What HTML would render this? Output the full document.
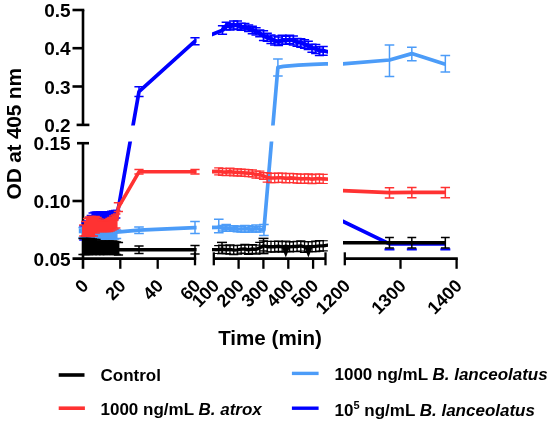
<!DOCTYPE html>
<html><head><meta charset="utf-8"><style>
html,body{margin:0;padding:0;background:#fff;}
svg{display:block;will-change:transform;}
</style></head><body>
<svg width="550" height="425" viewBox="0 0 550 425">
<defs><clipPath id="cl">
<rect x="79" y="0" width="117.6" height="125.5"/><rect x="79" y="141.5" width="117.6" height="121"/>
<rect x="212" y="0" width="116" height="125.5"/><rect x="212" y="141.5" width="116" height="121"/>
<rect x="343" y="0" width="116" height="125.5"/><rect x="343" y="141.5" width="116" height="121"/>
</clipPath><clipPath id="cb">
<rect x="75" y="0" width="126" height="125.5"/><rect x="75" y="141.5" width="126" height="121"/>
<rect x="208" y="0" width="123" height="125.5"/><rect x="208" y="141.5" width="123" height="121"/>
<rect x="340" y="0" width="122" height="125.5"/><rect x="340" y="141.5" width="122" height="121"/>
</clipPath></defs>
<rect width="550" height="425" fill="#fff"/>
<line x1="83" y1="10" x2="83" y2="124.9" stroke="#000" stroke-width="2.6"/>
<line x1="72.5" y1="10" x2="84.3" y2="10" stroke="#000" stroke-width="2.6"/>
<line x1="72.5" y1="48.2" x2="83" y2="48.2" stroke="#000" stroke-width="2.6"/>
<line x1="72.5" y1="86.5" x2="83" y2="86.5" stroke="#000" stroke-width="2.6"/>
<line x1="76.6" y1="124.9" x2="89.4" y2="124.9" stroke="#000" stroke-width="2.6"/>
<line x1="83" y1="143.2" x2="83" y2="268.8" stroke="#000" stroke-width="2.6"/>
<line x1="77" y1="143.2" x2="89" y2="143.2" stroke="#000" stroke-width="2.6"/>
<line x1="72.5" y1="201" x2="83" y2="201" stroke="#000" stroke-width="2.6"/>
<line x1="72.5" y1="258.6" x2="196.2" y2="258.6" stroke="#000" stroke-width="2.8"/>
<line x1="120.3" y1="258.6" x2="120.3" y2="268.8" stroke="#000" stroke-width="2.3"/>
<line x1="157.7" y1="258.6" x2="157.7" y2="268.8" stroke="#000" stroke-width="2.3"/>
<line x1="195" y1="252.3" x2="195" y2="265.3" stroke="#000" stroke-width="2.3"/>
<line x1="213.8" y1="258.6" x2="325.5" y2="258.6" stroke="#000" stroke-width="2.8"/>
<line x1="213.8" y1="252.3" x2="213.8" y2="265.3" stroke="#000" stroke-width="2.3"/>
<line x1="238.6" y1="258.6" x2="238.6" y2="268.8" stroke="#000" stroke-width="2.3"/>
<line x1="263.4" y1="258.6" x2="263.4" y2="268.8" stroke="#000" stroke-width="2.3"/>
<line x1="288.3" y1="258.6" x2="288.3" y2="268.8" stroke="#000" stroke-width="2.3"/>
<line x1="313.1" y1="258.6" x2="313.1" y2="268.8" stroke="#000" stroke-width="2.3"/>
<line x1="325.5" y1="252.3" x2="325.5" y2="265.3" stroke="#000" stroke-width="2.3"/>
<line x1="344.8" y1="258.6" x2="457.8" y2="258.6" stroke="#000" stroke-width="2.8"/>
<line x1="344.8" y1="252.3" x2="344.8" y2="265.3" stroke="#000" stroke-width="2.3"/>
<line x1="400.5" y1="258.6" x2="400.5" y2="268.8" stroke="#000" stroke-width="2.3"/>
<line x1="456.6" y1="258.6" x2="456.6" y2="268.8" stroke="#000" stroke-width="2.3"/>
<g font-family='"Liberation Sans", sans-serif' font-weight="bold" fill="#000">
<text x="70.6" y="17.2" font-size="19" text-anchor="end"  style="">0.5</text>
<text x="70.6" y="55.400000000000006" font-size="19" text-anchor="end"  style="">0.4</text>
<text x="70.6" y="93.7" font-size="19" text-anchor="end"  style="">0.3</text>
<text x="70.6" y="132.1" font-size="19" text-anchor="end"  style="">0.2</text>
<text x="70.6" y="150.39999999999998" font-size="19" text-anchor="end"  style="">0.15</text>
<text x="70.6" y="208.2" font-size="19" text-anchor="end"  style="">0.10</text>
<text x="70.6" y="265.5" font-size="19" text-anchor="end"  style="">0.05</text>
<text x="89.6" y="287" font-size="18" text-anchor="end" transform="rotate(-45 89.6 287)">0</text>
<text x="126.89999999999999" y="287" font-size="18" text-anchor="end" transform="rotate(-45 126.89999999999999 287)">20</text>
<text x="164.29999999999998" y="287" font-size="18" text-anchor="end" transform="rotate(-45 164.29999999999998 287)">40</text>
<text x="201.6" y="287" font-size="18" text-anchor="end" transform="rotate(-45 201.6 287)">60</text>
<text x="220.4" y="287" font-size="18" text-anchor="end" transform="rotate(-45 220.4 287)">100</text>
<text x="245.2" y="287" font-size="18" text-anchor="end" transform="rotate(-45 245.2 287)">200</text>
<text x="270.0" y="287" font-size="18" text-anchor="end" transform="rotate(-45 270.0 287)">300</text>
<text x="294.90000000000003" y="287" font-size="18" text-anchor="end" transform="rotate(-45 294.90000000000003 287)">400</text>
<text x="319.70000000000005" y="287" font-size="18" text-anchor="end" transform="rotate(-45 319.70000000000005 287)">500</text>
<text x="351.40000000000003" y="287" font-size="18" text-anchor="end" transform="rotate(-45 351.40000000000003 287)">1200</text>
<text x="407.1" y="287" font-size="18" text-anchor="end" transform="rotate(-45 407.1 287)">1300</text>
<text x="463.20000000000005" y="287" font-size="18" text-anchor="end" transform="rotate(-45 463.20000000000005 287)">1400</text>
<text x="270" y="345" font-size="20.6" text-anchor="middle"  style="">Time (min)</text>
<text x="0" y="0" font-size="21" letter-spacing="-0.25" text-anchor="middle" transform="translate(20.6,133.8) rotate(-90)">OD at 405 nm</text>
<text x="100.5" y="380.6" font-size="17" text-anchor="start"  style="">Control</text>
<text x="100.5" y="415.1" font-size="17" text-anchor="start"  style="">1000 ng/mL <tspan font-style="italic">B. atrox</tspan></text>
<text x="334.5" y="379.5" font-size="17" text-anchor="start"  style="">1000 ng/mL <tspan font-style="italic">B. lanceolatus</tspan></text>
<text x="334.5" y="415.7" font-size="17" text-anchor="start"  style="">10<tspan font-size="11" dy="-7">5</tspan><tspan dy="7"> ng/mL </tspan><tspan font-style="italic">B. lanceolatus</tspan></text>
</g>
<line x1="58.7" y1="375" x2="84.5" y2="375" stroke="#000" stroke-width="3.6"/>
<line x1="58.7" y1="408.2" x2="84.9" y2="408.2" stroke="rgb(255,50,50)" stroke-width="3.6"/>
<line x1="291.9" y1="373.4" x2="318.6" y2="373.4" stroke="rgb(76,156,248)" stroke-width="3.4"/>
<line x1="291.9" y1="408.2" x2="318.6" y2="408.2" stroke="rgb(0,0,255)" stroke-width="3.4"/>
<g clip-path="url(#cb)">
<polygon points="82.05,226 83.95,226 83.92,223 85.82,223 85.78,221 87.68,221 87.65,218 89.55,218 89.52,215.5 91.42,215.5 91.38,213 93.28,213 93.25,212.2 95.15,212.2 95.12,212 97.02,212 96.98,212.3 98.88,212.3 98.85,212 100.75,212 100.72,212.3 102.62,212.3 102.58,212 104.48,212 104.45,212.3 106.35,212.3 106.32,212 108.22,212 108.18,211.8 110.08,211.8 110.05,211.3 111.95,211.3 111.92,211 113.82,211 113.78,210.5 115.68,210.5 115.65,210.5 117.55,210.5 117.55,218 115.65,218 115.68,219.5 113.78,219.5 113.82,220 111.92,220 111.95,222 110.05,222 110.08,223.5 108.18,223.5 108.22,224 106.32,224 106.35,224.5 104.45,224.5 104.48,224.5 102.58,224.5 102.62,225 100.72,225 100.75,225 98.85,225 98.88,225 96.98,225 97.02,225 95.12,225 95.15,225 93.25,225 93.28,226 91.38,226 91.42,228 89.52,228 89.55,230 87.65,230 87.68,232 85.78,232 85.82,236 83.92,236 83.95,240 82.05,240" fill="rgb(0,0,255)"/>
<line x1="79.2" y1="226" x2="86.8" y2="226" stroke="rgb(0,0,255)" stroke-width="1.4"/>
<line x1="79.2" y1="240" x2="86.8" y2="240" stroke="rgb(0,0,255)" stroke-width="1.4"/>
<line x1="81.07" y1="223" x2="88.67" y2="223" stroke="rgb(0,0,255)" stroke-width="1.4"/>
<line x1="81.07" y1="236" x2="88.67" y2="236" stroke="rgb(0,0,255)" stroke-width="1.4"/>
<line x1="82.93" y1="221" x2="90.53" y2="221" stroke="rgb(0,0,255)" stroke-width="1.4"/>
<line x1="82.93" y1="232" x2="90.53" y2="232" stroke="rgb(0,0,255)" stroke-width="1.4"/>
<line x1="84.8" y1="218" x2="92.4" y2="218" stroke="rgb(0,0,255)" stroke-width="1.4"/>
<line x1="84.8" y1="230" x2="92.4" y2="230" stroke="rgb(0,0,255)" stroke-width="1.4"/>
<line x1="86.67" y1="215.5" x2="94.27" y2="215.5" stroke="rgb(0,0,255)" stroke-width="1.4"/>
<line x1="86.67" y1="228" x2="94.27" y2="228" stroke="rgb(0,0,255)" stroke-width="1.4"/>
<line x1="88.53" y1="213" x2="96.13" y2="213" stroke="rgb(0,0,255)" stroke-width="1.4"/>
<line x1="88.53" y1="226" x2="96.13" y2="226" stroke="rgb(0,0,255)" stroke-width="1.4"/>
<line x1="90.4" y1="212.2" x2="98" y2="212.2" stroke="rgb(0,0,255)" stroke-width="1.4"/>
<line x1="90.4" y1="225" x2="98" y2="225" stroke="rgb(0,0,255)" stroke-width="1.4"/>
<line x1="92.27" y1="212" x2="99.87" y2="212" stroke="rgb(0,0,255)" stroke-width="1.4"/>
<line x1="92.27" y1="225" x2="99.87" y2="225" stroke="rgb(0,0,255)" stroke-width="1.4"/>
<line x1="94.13" y1="212.3" x2="101.73" y2="212.3" stroke="rgb(0,0,255)" stroke-width="1.4"/>
<line x1="94.13" y1="225" x2="101.73" y2="225" stroke="rgb(0,0,255)" stroke-width="1.4"/>
<line x1="96" y1="212" x2="103.6" y2="212" stroke="rgb(0,0,255)" stroke-width="1.4"/>
<line x1="96" y1="225" x2="103.6" y2="225" stroke="rgb(0,0,255)" stroke-width="1.4"/>
<line x1="97.87" y1="212.3" x2="105.47" y2="212.3" stroke="rgb(0,0,255)" stroke-width="1.4"/>
<line x1="97.87" y1="225" x2="105.47" y2="225" stroke="rgb(0,0,255)" stroke-width="1.4"/>
<line x1="99.73" y1="212" x2="107.33" y2="212" stroke="rgb(0,0,255)" stroke-width="1.4"/>
<line x1="99.73" y1="224.5" x2="107.33" y2="224.5" stroke="rgb(0,0,255)" stroke-width="1.4"/>
<line x1="101.6" y1="212.3" x2="109.2" y2="212.3" stroke="rgb(0,0,255)" stroke-width="1.4"/>
<line x1="101.6" y1="224.5" x2="109.2" y2="224.5" stroke="rgb(0,0,255)" stroke-width="1.4"/>
<line x1="103.47" y1="212" x2="111.07" y2="212" stroke="rgb(0,0,255)" stroke-width="1.4"/>
<line x1="103.47" y1="224" x2="111.07" y2="224" stroke="rgb(0,0,255)" stroke-width="1.4"/>
<line x1="105.33" y1="211.8" x2="112.93" y2="211.8" stroke="rgb(0,0,255)" stroke-width="1.4"/>
<line x1="105.33" y1="223.5" x2="112.93" y2="223.5" stroke="rgb(0,0,255)" stroke-width="1.4"/>
<line x1="107.2" y1="211.3" x2="114.8" y2="211.3" stroke="rgb(0,0,255)" stroke-width="1.4"/>
<line x1="107.2" y1="222" x2="114.8" y2="222" stroke="rgb(0,0,255)" stroke-width="1.4"/>
<line x1="109.07" y1="211" x2="116.67" y2="211" stroke="rgb(0,0,255)" stroke-width="1.4"/>
<line x1="109.07" y1="220" x2="116.67" y2="220" stroke="rgb(0,0,255)" stroke-width="1.4"/>
<line x1="110.93" y1="210.5" x2="118.53" y2="210.5" stroke="rgb(0,0,255)" stroke-width="1.4"/>
<line x1="110.93" y1="219.5" x2="118.53" y2="219.5" stroke="rgb(0,0,255)" stroke-width="1.4"/>
<line x1="112.8" y1="210.5" x2="120.4" y2="210.5" stroke="rgb(0,0,255)" stroke-width="1.4"/>
<line x1="112.8" y1="218" x2="120.4" y2="218" stroke="rgb(0,0,255)" stroke-width="1.4"/>
</g>
<g clip-path="url(#cl)">
<polyline points="116.6,213.5 118.5,207.5 139,91.6 195,41.2 222.5,30.2 226.23,25.91 229.96,26.52 233.69,25.09 237.42,25.24 241.15,27 244.88,27.03 248.6,28.36 252.33,29.84 256.06,31.48 259.79,33.45 263.52,35.71 267.25,37.25 270.98,38.77 274.71,40.84 278.44,41.73 282.17,40.09 285.89,40.4 289.62,39.79 293.35,40.03 297.08,42.29 300.81,42.47 304.54,44.08 308.27,45.72 312,47.98 315.73,48.58 319.46,50.71 323.18,50.63 331,52.6 336,218 389.48,243.8 445.33,243.8" fill="none" stroke="rgb(0,0,255)" stroke-width="3.7" stroke-linejoin="round" />
</g>
<g clip-path="url(#cb)">
<line x1="139" y1="86.8" x2="139" y2="96.4" stroke="rgb(0,0,255)" stroke-width="1.5"/>
<line x1="134.4" y1="86.8" x2="143.6" y2="86.8" stroke="rgb(0,0,255)" stroke-width="1.5"/>
<line x1="134.4" y1="96.4" x2="143.6" y2="96.4" stroke="rgb(0,0,255)" stroke-width="1.5"/>
<line x1="195" y1="37.7" x2="195" y2="44.7" stroke="rgb(0,0,255)" stroke-width="1.5"/>
<line x1="190.4" y1="37.7" x2="199.6" y2="37.7" stroke="rgb(0,0,255)" stroke-width="1.5"/>
<line x1="190.4" y1="44.7" x2="199.6" y2="44.7" stroke="rgb(0,0,255)" stroke-width="1.5"/>
</g>
<g clip-path="url(#cb)">
<line x1="222.5" y1="25.7" x2="222.5" y2="34.2" stroke="rgb(0,0,255)" stroke-width="1.7"/>
<line x1="217.9" y1="25.7" x2="227.1" y2="25.7" stroke="rgb(0,0,255)" stroke-width="1.5"/>
<line x1="217.9" y1="34.2" x2="227.1" y2="34.2" stroke="rgb(0,0,255)" stroke-width="1.5"/>
<line x1="226.23" y1="22.3" x2="226.23" y2="29.67" stroke="rgb(0,0,255)" stroke-width="1.7"/>
<line x1="221.63" y1="22.3" x2="230.83" y2="22.3" stroke="rgb(0,0,255)" stroke-width="1.5"/>
<line x1="221.63" y1="29.67" x2="230.83" y2="29.67" stroke="rgb(0,0,255)" stroke-width="1.5"/>
<line x1="229.96" y1="23.41" x2="229.96" y2="29.89" stroke="rgb(0,0,255)" stroke-width="1.7"/>
<line x1="225.36" y1="23.41" x2="234.56" y2="23.41" stroke="rgb(0,0,255)" stroke-width="1.5"/>
<line x1="225.36" y1="29.89" x2="234.56" y2="29.89" stroke="rgb(0,0,255)" stroke-width="1.5"/>
<line x1="233.69" y1="21.12" x2="233.69" y2="28.92" stroke="rgb(0,0,255)" stroke-width="1.7"/>
<line x1="229.09" y1="21.12" x2="238.29" y2="21.12" stroke="rgb(0,0,255)" stroke-width="1.5"/>
<line x1="229.09" y1="28.92" x2="238.29" y2="28.92" stroke="rgb(0,0,255)" stroke-width="1.5"/>
<line x1="237.42" y1="21.06" x2="237.42" y2="29.4" stroke="rgb(0,0,255)" stroke-width="1.7"/>
<line x1="232.82" y1="21.06" x2="242.02" y2="21.06" stroke="rgb(0,0,255)" stroke-width="1.5"/>
<line x1="232.82" y1="29.4" x2="242.02" y2="29.4" stroke="rgb(0,0,255)" stroke-width="1.5"/>
<line x1="241.15" y1="23.26" x2="241.15" y2="30.19" stroke="rgb(0,0,255)" stroke-width="1.7"/>
<line x1="236.55" y1="23.26" x2="245.75" y2="23.26" stroke="rgb(0,0,255)" stroke-width="1.5"/>
<line x1="236.55" y1="30.19" x2="245.75" y2="30.19" stroke="rgb(0,0,255)" stroke-width="1.5"/>
<line x1="244.88" y1="23.39" x2="244.88" y2="30.1" stroke="rgb(0,0,255)" stroke-width="1.7"/>
<line x1="240.28" y1="23.39" x2="249.47" y2="23.39" stroke="rgb(0,0,255)" stroke-width="1.5"/>
<line x1="240.28" y1="30.1" x2="249.47" y2="30.1" stroke="rgb(0,0,255)" stroke-width="1.5"/>
<line x1="248.6" y1="25.07" x2="248.6" y2="31.39" stroke="rgb(0,0,255)" stroke-width="1.7"/>
<line x1="244" y1="25.07" x2="253.2" y2="25.07" stroke="rgb(0,0,255)" stroke-width="1.5"/>
<line x1="244" y1="31.39" x2="253.2" y2="31.39" stroke="rgb(0,0,255)" stroke-width="1.5"/>
<line x1="252.33" y1="26.31" x2="252.33" y2="33.85" stroke="rgb(0,0,255)" stroke-width="1.7"/>
<line x1="247.73" y1="26.31" x2="256.93" y2="26.31" stroke="rgb(0,0,255)" stroke-width="1.5"/>
<line x1="247.73" y1="33.85" x2="256.93" y2="33.85" stroke="rgb(0,0,255)" stroke-width="1.5"/>
<line x1="256.06" y1="27.71" x2="256.06" y2="35.08" stroke="rgb(0,0,255)" stroke-width="1.7"/>
<line x1="251.46" y1="27.71" x2="260.66" y2="27.71" stroke="rgb(0,0,255)" stroke-width="1.5"/>
<line x1="251.46" y1="35.08" x2="260.66" y2="35.08" stroke="rgb(0,0,255)" stroke-width="1.5"/>
<line x1="259.79" y1="29.91" x2="259.79" y2="36.79" stroke="rgb(0,0,255)" stroke-width="1.7"/>
<line x1="255.19" y1="29.91" x2="264.39" y2="29.91" stroke="rgb(0,0,255)" stroke-width="1.5"/>
<line x1="255.19" y1="36.79" x2="264.39" y2="36.79" stroke="rgb(0,0,255)" stroke-width="1.5"/>
<line x1="263.52" y1="30.81" x2="263.52" y2="40.42" stroke="rgb(0,0,255)" stroke-width="1.7"/>
<line x1="258.92" y1="30.81" x2="268.12" y2="30.81" stroke="rgb(0,0,255)" stroke-width="1.5"/>
<line x1="258.92" y1="40.42" x2="268.12" y2="40.42" stroke="rgb(0,0,255)" stroke-width="1.5"/>
<line x1="267.25" y1="33.17" x2="267.25" y2="41.22" stroke="rgb(0,0,255)" stroke-width="1.7"/>
<line x1="262.65" y1="33.17" x2="271.85" y2="33.17" stroke="rgb(0,0,255)" stroke-width="1.5"/>
<line x1="262.65" y1="41.22" x2="271.85" y2="41.22" stroke="rgb(0,0,255)" stroke-width="1.5"/>
<line x1="270.98" y1="34.99" x2="270.98" y2="43.39" stroke="rgb(0,0,255)" stroke-width="1.7"/>
<line x1="266.38" y1="34.99" x2="275.58" y2="34.99" stroke="rgb(0,0,255)" stroke-width="1.5"/>
<line x1="266.38" y1="43.39" x2="275.58" y2="43.39" stroke="rgb(0,0,255)" stroke-width="1.5"/>
<line x1="274.71" y1="36.12" x2="274.71" y2="45" stroke="rgb(0,0,255)" stroke-width="1.7"/>
<line x1="270.11" y1="36.12" x2="279.31" y2="36.12" stroke="rgb(0,0,255)" stroke-width="1.5"/>
<line x1="270.11" y1="45" x2="279.31" y2="45" stroke="rgb(0,0,255)" stroke-width="1.5"/>
<line x1="278.44" y1="37.02" x2="278.44" y2="45.43" stroke="rgb(0,0,255)" stroke-width="1.7"/>
<line x1="273.84" y1="37.02" x2="283.04" y2="37.02" stroke="rgb(0,0,255)" stroke-width="1.5"/>
<line x1="273.84" y1="45.43" x2="283.04" y2="45.43" stroke="rgb(0,0,255)" stroke-width="1.5"/>
<line x1="282.17" y1="35.3" x2="282.17" y2="44.36" stroke="rgb(0,0,255)" stroke-width="1.7"/>
<line x1="277.56" y1="35.3" x2="286.77" y2="35.3" stroke="rgb(0,0,255)" stroke-width="1.5"/>
<line x1="277.56" y1="44.36" x2="286.77" y2="44.36" stroke="rgb(0,0,255)" stroke-width="1.5"/>
<line x1="285.89" y1="36.22" x2="285.89" y2="44.18" stroke="rgb(0,0,255)" stroke-width="1.7"/>
<line x1="281.29" y1="36.22" x2="290.49" y2="36.22" stroke="rgb(0,0,255)" stroke-width="1.5"/>
<line x1="281.29" y1="44.18" x2="290.49" y2="44.18" stroke="rgb(0,0,255)" stroke-width="1.5"/>
<line x1="289.62" y1="35.15" x2="289.62" y2="43.81" stroke="rgb(0,0,255)" stroke-width="1.7"/>
<line x1="285.02" y1="35.15" x2="294.22" y2="35.15" stroke="rgb(0,0,255)" stroke-width="1.5"/>
<line x1="285.02" y1="43.81" x2="294.22" y2="43.81" stroke="rgb(0,0,255)" stroke-width="1.5"/>
<line x1="293.35" y1="35.93" x2="293.35" y2="44.89" stroke="rgb(0,0,255)" stroke-width="1.7"/>
<line x1="288.75" y1="35.93" x2="297.95" y2="35.93" stroke="rgb(0,0,255)" stroke-width="1.5"/>
<line x1="288.75" y1="44.89" x2="297.95" y2="44.89" stroke="rgb(0,0,255)" stroke-width="1.5"/>
<line x1="297.08" y1="38.45" x2="297.08" y2="46.29" stroke="rgb(0,0,255)" stroke-width="1.7"/>
<line x1="292.48" y1="38.45" x2="301.68" y2="38.45" stroke="rgb(0,0,255)" stroke-width="1.5"/>
<line x1="292.48" y1="46.29" x2="301.68" y2="46.29" stroke="rgb(0,0,255)" stroke-width="1.5"/>
<line x1="300.81" y1="38.7" x2="300.81" y2="47.13" stroke="rgb(0,0,255)" stroke-width="1.7"/>
<line x1="296.21" y1="38.7" x2="305.41" y2="38.7" stroke="rgb(0,0,255)" stroke-width="1.5"/>
<line x1="296.21" y1="47.13" x2="305.41" y2="47.13" stroke="rgb(0,0,255)" stroke-width="1.5"/>
<line x1="304.54" y1="39.71" x2="304.54" y2="48.32" stroke="rgb(0,0,255)" stroke-width="1.7"/>
<line x1="299.94" y1="39.71" x2="309.14" y2="39.71" stroke="rgb(0,0,255)" stroke-width="1.5"/>
<line x1="299.94" y1="48.32" x2="309.14" y2="48.32" stroke="rgb(0,0,255)" stroke-width="1.5"/>
<line x1="308.27" y1="41.14" x2="308.27" y2="49.58" stroke="rgb(0,0,255)" stroke-width="1.7"/>
<line x1="303.67" y1="41.14" x2="312.87" y2="41.14" stroke="rgb(0,0,255)" stroke-width="1.5"/>
<line x1="303.67" y1="49.58" x2="312.87" y2="49.58" stroke="rgb(0,0,255)" stroke-width="1.5"/>
<line x1="312" y1="44.14" x2="312" y2="52.18" stroke="rgb(0,0,255)" stroke-width="1.7"/>
<line x1="307.4" y1="44.14" x2="316.6" y2="44.14" stroke="rgb(0,0,255)" stroke-width="1.5"/>
<line x1="307.4" y1="52.18" x2="316.6" y2="52.18" stroke="rgb(0,0,255)" stroke-width="1.5"/>
<line x1="315.73" y1="44.56" x2="315.73" y2="53.44" stroke="rgb(0,0,255)" stroke-width="1.7"/>
<line x1="311.13" y1="44.56" x2="320.33" y2="44.56" stroke="rgb(0,0,255)" stroke-width="1.5"/>
<line x1="311.13" y1="53.44" x2="320.33" y2="53.44" stroke="rgb(0,0,255)" stroke-width="1.5"/>
<line x1="319.46" y1="46.64" x2="319.46" y2="55.47" stroke="rgb(0,0,255)" stroke-width="1.7"/>
<line x1="314.86" y1="46.64" x2="324.06" y2="46.64" stroke="rgb(0,0,255)" stroke-width="1.5"/>
<line x1="314.86" y1="55.47" x2="324.06" y2="55.47" stroke="rgb(0,0,255)" stroke-width="1.5"/>
<line x1="323.18" y1="46.46" x2="323.18" y2="55.36" stroke="rgb(0,0,255)" stroke-width="1.7"/>
<line x1="318.58" y1="46.46" x2="327.78" y2="46.46" stroke="rgb(0,0,255)" stroke-width="1.5"/>
<line x1="318.58" y1="55.36" x2="327.78" y2="55.36" stroke="rgb(0,0,255)" stroke-width="1.5"/>
</g>
<g clip-path="url(#cl)">
<polyline points="222.5,30.2 226.23,25.91 229.96,26.52 233.69,25.09 237.42,25.24 241.15,27 244.88,27.03 248.6,28.36 252.33,29.84 256.06,31.48 259.79,33.45 263.52,35.71 267.25,37.25 270.98,38.77 274.71,40.84 278.44,41.73 282.17,40.09 285.89,40.4 289.62,39.79 293.35,40.03 297.08,42.29 300.81,42.47 304.54,44.08 308.27,45.72 312,47.98 315.73,48.58 319.46,50.71 323.18,50.63" fill="none" stroke="rgb(0,0,255)" stroke-width="4.2" stroke-linejoin="round" />
</g>
<line x1="384.48" y1="249.4" x2="394.48" y2="249.4" stroke="rgb(0,0,255)" stroke-width="2.2"/>
<line x1="406.82" y1="249.4" x2="416.82" y2="249.4" stroke="rgb(0,0,255)" stroke-width="2.2"/>
<line x1="440.33" y1="249.4" x2="450.33" y2="249.4" stroke="rgb(0,0,255)" stroke-width="2.2"/>
<g clip-path="url(#cb)">
<polygon points="82.05,227.5 83.95,227.5 83.92,229.5 85.82,229.5 85.78,230 87.68,230 87.65,230 89.55,230 89.52,230 91.42,230 91.38,229.5 93.28,229.5 93.25,229.5 95.15,229.5 95.12,229.5 97.02,229.5 96.98,229.5 98.88,229.5 98.85,229.5 100.75,229.5 100.72,229.5 102.62,229.5 102.58,229.5 104.48,229.5 104.45,229.5 106.35,229.5 106.32,229.5 108.22,229.5 108.18,229.5 110.08,229.5 110.05,229.5 111.95,229.5 111.92,229.5 113.82,229.5 113.78,229.5 115.68,229.5 115.65,230 117.55,230 117.55,238.5 115.65,238.5 115.68,239 113.78,239 113.82,239 111.92,239 111.95,239 110.05,239 110.08,239 108.18,239 108.22,239 106.32,239 106.35,239 104.45,239 104.48,239 102.58,239 102.62,239 100.72,239 100.75,239 98.85,239 98.88,239 96.98,239 97.02,239 95.12,239 95.15,238.5 93.25,238.5 93.28,238.5 91.38,238.5 91.42,238 89.52,238 89.55,238 87.65,238 87.68,237.5 85.78,237.5 85.82,237.5 83.92,237.5 83.95,237.5 82.05,237.5" fill="rgb(76,156,248)"/>
<line x1="78.4" y1="227.5" x2="87.6" y2="227.5" stroke="rgb(76,156,248)" stroke-width="1.4"/>
<line x1="78.4" y1="237.5" x2="87.6" y2="237.5" stroke="rgb(76,156,248)" stroke-width="1.4"/>
<line x1="80.27" y1="229.5" x2="89.47" y2="229.5" stroke="rgb(76,156,248)" stroke-width="1.4"/>
<line x1="80.27" y1="237.5" x2="89.47" y2="237.5" stroke="rgb(76,156,248)" stroke-width="1.4"/>
<line x1="82.13" y1="230" x2="91.33" y2="230" stroke="rgb(76,156,248)" stroke-width="1.4"/>
<line x1="82.13" y1="237.5" x2="91.33" y2="237.5" stroke="rgb(76,156,248)" stroke-width="1.4"/>
<line x1="84" y1="230" x2="93.2" y2="230" stroke="rgb(76,156,248)" stroke-width="1.4"/>
<line x1="84" y1="238" x2="93.2" y2="238" stroke="rgb(76,156,248)" stroke-width="1.4"/>
<line x1="85.87" y1="230" x2="95.07" y2="230" stroke="rgb(76,156,248)" stroke-width="1.4"/>
<line x1="85.87" y1="238" x2="95.07" y2="238" stroke="rgb(76,156,248)" stroke-width="1.4"/>
<line x1="87.73" y1="229.5" x2="96.93" y2="229.5" stroke="rgb(76,156,248)" stroke-width="1.4"/>
<line x1="87.73" y1="238.5" x2="96.93" y2="238.5" stroke="rgb(76,156,248)" stroke-width="1.4"/>
<line x1="89.6" y1="229.5" x2="98.8" y2="229.5" stroke="rgb(76,156,248)" stroke-width="1.4"/>
<line x1="89.6" y1="238.5" x2="98.8" y2="238.5" stroke="rgb(76,156,248)" stroke-width="1.4"/>
<line x1="91.47" y1="229.5" x2="100.67" y2="229.5" stroke="rgb(76,156,248)" stroke-width="1.4"/>
<line x1="91.47" y1="239" x2="100.67" y2="239" stroke="rgb(76,156,248)" stroke-width="1.4"/>
<line x1="93.33" y1="229.5" x2="102.53" y2="229.5" stroke="rgb(76,156,248)" stroke-width="1.4"/>
<line x1="93.33" y1="239" x2="102.53" y2="239" stroke="rgb(76,156,248)" stroke-width="1.4"/>
<line x1="95.2" y1="229.5" x2="104.4" y2="229.5" stroke="rgb(76,156,248)" stroke-width="1.4"/>
<line x1="95.2" y1="239" x2="104.4" y2="239" stroke="rgb(76,156,248)" stroke-width="1.4"/>
<line x1="97.07" y1="229.5" x2="106.27" y2="229.5" stroke="rgb(76,156,248)" stroke-width="1.4"/>
<line x1="97.07" y1="239" x2="106.27" y2="239" stroke="rgb(76,156,248)" stroke-width="1.4"/>
<line x1="98.93" y1="229.5" x2="108.13" y2="229.5" stroke="rgb(76,156,248)" stroke-width="1.4"/>
<line x1="98.93" y1="239" x2="108.13" y2="239" stroke="rgb(76,156,248)" stroke-width="1.4"/>
<line x1="100.8" y1="229.5" x2="110" y2="229.5" stroke="rgb(76,156,248)" stroke-width="1.4"/>
<line x1="100.8" y1="239" x2="110" y2="239" stroke="rgb(76,156,248)" stroke-width="1.4"/>
<line x1="102.67" y1="229.5" x2="111.87" y2="229.5" stroke="rgb(76,156,248)" stroke-width="1.4"/>
<line x1="102.67" y1="239" x2="111.87" y2="239" stroke="rgb(76,156,248)" stroke-width="1.4"/>
<line x1="104.53" y1="229.5" x2="113.73" y2="229.5" stroke="rgb(76,156,248)" stroke-width="1.4"/>
<line x1="104.53" y1="239" x2="113.73" y2="239" stroke="rgb(76,156,248)" stroke-width="1.4"/>
<line x1="106.4" y1="229.5" x2="115.6" y2="229.5" stroke="rgb(76,156,248)" stroke-width="1.4"/>
<line x1="106.4" y1="239" x2="115.6" y2="239" stroke="rgb(76,156,248)" stroke-width="1.4"/>
<line x1="108.27" y1="229.5" x2="117.47" y2="229.5" stroke="rgb(76,156,248)" stroke-width="1.4"/>
<line x1="108.27" y1="239" x2="117.47" y2="239" stroke="rgb(76,156,248)" stroke-width="1.4"/>
<line x1="110.13" y1="229.5" x2="119.33" y2="229.5" stroke="rgb(76,156,248)" stroke-width="1.4"/>
<line x1="110.13" y1="239" x2="119.33" y2="239" stroke="rgb(76,156,248)" stroke-width="1.4"/>
<line x1="112" y1="230" x2="121.2" y2="230" stroke="rgb(76,156,248)" stroke-width="1.4"/>
<line x1="112" y1="238.5" x2="121.2" y2="238.5" stroke="rgb(76,156,248)" stroke-width="1.4"/>
</g>
<rect x="78.8" y="228.3" width="5" height="5" fill="rgb(76,156,248)"/>
<g clip-path="url(#cl)">
<polyline points="116.6,232.2 139,230.2 195,227.6 218.77,227.28 222.5,228.17 226.23,227.87 229.96,228.53 233.69,228.39 237.42,229 241.15,229.02 244.88,228.84 248.6,228.88 252.33,229.34 256.06,228.48 259.79,229.28 263.9,229.9 277.9,67.3 283.41,66.4 298.32,65.1 313.24,64.3 325.67,63.9 342.8,63.8 389.48,60 411.82,53.6 445.33,64.3" fill="none" stroke="rgb(76,156,248)" stroke-width="3.7" stroke-linejoin="round" />
</g>
<g clip-path="url(#cb)">
<line x1="139" y1="227" x2="139" y2="233.4" stroke="rgb(76,156,248)" stroke-width="1.5"/>
<line x1="134.2" y1="227" x2="143.8" y2="227" stroke="rgb(76,156,248)" stroke-width="1.5"/>
<line x1="134.2" y1="233.4" x2="143.8" y2="233.4" stroke="rgb(76,156,248)" stroke-width="1.5"/>
<line x1="195" y1="221.6" x2="195" y2="233.4" stroke="rgb(76,156,248)" stroke-width="1.5"/>
<line x1="190.2" y1="221.6" x2="199.8" y2="221.6" stroke="rgb(76,156,248)" stroke-width="1.5"/>
<line x1="190.2" y1="233.4" x2="199.8" y2="233.4" stroke="rgb(76,156,248)" stroke-width="1.5"/>
<line x1="218.77" y1="219.28" x2="218.77" y2="232.78" stroke="rgb(76,156,248)" stroke-width="1.5"/>
<line x1="213.97" y1="219.28" x2="223.57" y2="219.28" stroke="rgb(76,156,248)" stroke-width="1.5"/>
<line x1="213.97" y1="232.78" x2="223.57" y2="232.78" stroke="rgb(76,156,248)" stroke-width="1.5"/>
<line x1="222.5" y1="225.45" x2="222.5" y2="230.88" stroke="rgb(76,156,248)" stroke-width="1.5"/>
<line x1="217.7" y1="225.45" x2="227.3" y2="225.45" stroke="rgb(76,156,248)" stroke-width="1.5"/>
<line x1="217.7" y1="230.88" x2="227.3" y2="230.88" stroke="rgb(76,156,248)" stroke-width="1.5"/>
<line x1="226.23" y1="224.6" x2="226.23" y2="231.14" stroke="rgb(76,156,248)" stroke-width="1.5"/>
<line x1="221.43" y1="224.6" x2="231.03" y2="224.6" stroke="rgb(76,156,248)" stroke-width="1.5"/>
<line x1="221.43" y1="231.14" x2="231.03" y2="231.14" stroke="rgb(76,156,248)" stroke-width="1.5"/>
<line x1="229.96" y1="225.74" x2="229.96" y2="231.33" stroke="rgb(76,156,248)" stroke-width="1.5"/>
<line x1="225.16" y1="225.74" x2="234.76" y2="225.74" stroke="rgb(76,156,248)" stroke-width="1.5"/>
<line x1="225.16" y1="231.33" x2="234.76" y2="231.33" stroke="rgb(76,156,248)" stroke-width="1.5"/>
<line x1="233.69" y1="225.8" x2="233.69" y2="230.98" stroke="rgb(76,156,248)" stroke-width="1.5"/>
<line x1="228.89" y1="225.8" x2="238.49" y2="225.8" stroke="rgb(76,156,248)" stroke-width="1.5"/>
<line x1="228.89" y1="230.98" x2="238.49" y2="230.98" stroke="rgb(76,156,248)" stroke-width="1.5"/>
<line x1="237.42" y1="226.26" x2="237.42" y2="231.74" stroke="rgb(76,156,248)" stroke-width="1.5"/>
<line x1="232.62" y1="226.26" x2="242.22" y2="226.26" stroke="rgb(76,156,248)" stroke-width="1.5"/>
<line x1="232.62" y1="231.74" x2="242.22" y2="231.74" stroke="rgb(76,156,248)" stroke-width="1.5"/>
<line x1="241.15" y1="226.15" x2="241.15" y2="231.89" stroke="rgb(76,156,248)" stroke-width="1.5"/>
<line x1="236.35" y1="226.15" x2="245.95" y2="226.15" stroke="rgb(76,156,248)" stroke-width="1.5"/>
<line x1="236.35" y1="231.89" x2="245.95" y2="231.89" stroke="rgb(76,156,248)" stroke-width="1.5"/>
<line x1="244.88" y1="225.38" x2="244.88" y2="232.3" stroke="rgb(76,156,248)" stroke-width="1.5"/>
<line x1="240.07" y1="225.38" x2="249.68" y2="225.38" stroke="rgb(76,156,248)" stroke-width="1.5"/>
<line x1="240.07" y1="232.3" x2="249.68" y2="232.3" stroke="rgb(76,156,248)" stroke-width="1.5"/>
<line x1="248.6" y1="225.81" x2="248.6" y2="231.96" stroke="rgb(76,156,248)" stroke-width="1.5"/>
<line x1="243.8" y1="225.81" x2="253.4" y2="225.81" stroke="rgb(76,156,248)" stroke-width="1.5"/>
<line x1="243.8" y1="231.96" x2="253.4" y2="231.96" stroke="rgb(76,156,248)" stroke-width="1.5"/>
<line x1="252.33" y1="226.66" x2="252.33" y2="232.02" stroke="rgb(76,156,248)" stroke-width="1.5"/>
<line x1="247.53" y1="226.66" x2="257.13" y2="226.66" stroke="rgb(76,156,248)" stroke-width="1.5"/>
<line x1="247.53" y1="232.02" x2="257.13" y2="232.02" stroke="rgb(76,156,248)" stroke-width="1.5"/>
<line x1="256.06" y1="225.08" x2="256.06" y2="231.89" stroke="rgb(76,156,248)" stroke-width="1.5"/>
<line x1="251.26" y1="225.08" x2="260.86" y2="225.08" stroke="rgb(76,156,248)" stroke-width="1.5"/>
<line x1="251.26" y1="231.89" x2="260.86" y2="231.89" stroke="rgb(76,156,248)" stroke-width="1.5"/>
<line x1="259.79" y1="226.53" x2="259.79" y2="232.03" stroke="rgb(76,156,248)" stroke-width="1.5"/>
<line x1="254.99" y1="226.53" x2="264.59" y2="226.53" stroke="rgb(76,156,248)" stroke-width="1.5"/>
<line x1="254.99" y1="232.03" x2="264.59" y2="232.03" stroke="rgb(76,156,248)" stroke-width="1.5"/>
<line x1="263.9" y1="224.4" x2="263.9" y2="235.4" stroke="rgb(76,156,248)" stroke-width="1.5"/>
<line x1="259.1" y1="224.4" x2="268.7" y2="224.4" stroke="rgb(76,156,248)" stroke-width="1.5"/>
<line x1="259.1" y1="235.4" x2="268.7" y2="235.4" stroke="rgb(76,156,248)" stroke-width="1.5"/>
<line x1="277.9" y1="59" x2="277.9" y2="76" stroke="rgb(76,156,248)" stroke-width="1.5"/>
<line x1="273.1" y1="59" x2="282.7" y2="59" stroke="rgb(76,156,248)" stroke-width="1.5"/>
<line x1="273.1" y1="76" x2="282.7" y2="76" stroke="rgb(76,156,248)" stroke-width="1.5"/>
<line x1="389.48" y1="44.9" x2="389.48" y2="76.6" stroke="rgb(76,156,248)" stroke-width="1.5"/>
<line x1="384.68" y1="44.9" x2="394.28" y2="44.9" stroke="rgb(76,156,248)" stroke-width="1.5"/>
<line x1="384.68" y1="76.6" x2="394.28" y2="76.6" stroke="rgb(76,156,248)" stroke-width="1.5"/>
<line x1="411.82" y1="47.3" x2="411.82" y2="60.7" stroke="rgb(76,156,248)" stroke-width="1.5"/>
<line x1="407.02" y1="47.3" x2="416.62" y2="47.3" stroke="rgb(76,156,248)" stroke-width="1.5"/>
<line x1="407.02" y1="60.7" x2="416.62" y2="60.7" stroke="rgb(76,156,248)" stroke-width="1.5"/>
<line x1="445.33" y1="55.5" x2="445.33" y2="72" stroke="rgb(76,156,248)" stroke-width="1.5"/>
<line x1="440.53" y1="55.5" x2="450.13" y2="55.5" stroke="rgb(76,156,248)" stroke-width="1.5"/>
<line x1="440.53" y1="72" x2="450.13" y2="72" stroke="rgb(76,156,248)" stroke-width="1.5"/>
</g>
<g clip-path="url(#cb)">
<polygon points="82.05,225 83.95,225 83.92,221.5 85.82,221.5 85.78,218.5 87.68,218.5 87.65,217 89.55,217 89.52,216.5 91.42,216.5 91.38,216.5 93.28,216.5 93.25,216.8 95.15,216.8 95.12,216.5 97.02,216.5 96.98,217.5 98.88,217.5 98.85,219 100.75,219 100.72,220.5 102.62,220.5 102.58,221 104.48,221 104.45,220.5 106.35,220.5 106.32,219.5 108.22,219.5 108.18,218.5 110.08,218.5 110.05,217.5 111.95,217.5 111.92,216 113.82,216 113.78,215 115.68,215 115.65,214 117.55,214 117.55,228 115.65,228 115.68,229 113.78,229 113.82,230 111.92,230 111.95,231 110.05,231 110.08,231.5 108.18,231.5 108.22,231.5 106.32,231.5 106.35,231.5 104.45,231.5 104.48,231.5 102.58,231.5 102.62,231.5 100.72,231.5 100.75,231.5 98.85,231.5 98.88,231.5 96.98,231.5 97.02,233 95.12,233 95.15,236 93.25,236 93.28,236 91.38,236 91.42,236.5 89.52,236.5 89.55,236 87.65,236 87.68,236 85.78,236 85.82,236 83.92,236 83.95,236 82.05,236" fill="rgb(255,50,50)"/>
<line x1="79.2" y1="225" x2="86.8" y2="225" stroke="rgb(255,50,50)" stroke-width="1.4"/>
<line x1="79.2" y1="236" x2="86.8" y2="236" stroke="rgb(255,50,50)" stroke-width="1.4"/>
<line x1="81.07" y1="221.5" x2="88.67" y2="221.5" stroke="rgb(255,50,50)" stroke-width="1.4"/>
<line x1="81.07" y1="236" x2="88.67" y2="236" stroke="rgb(255,50,50)" stroke-width="1.4"/>
<line x1="82.93" y1="218.5" x2="90.53" y2="218.5" stroke="rgb(255,50,50)" stroke-width="1.4"/>
<line x1="82.93" y1="236" x2="90.53" y2="236" stroke="rgb(255,50,50)" stroke-width="1.4"/>
<line x1="84.8" y1="217" x2="92.4" y2="217" stroke="rgb(255,50,50)" stroke-width="1.4"/>
<line x1="84.8" y1="236" x2="92.4" y2="236" stroke="rgb(255,50,50)" stroke-width="1.4"/>
<line x1="86.67" y1="216.5" x2="94.27" y2="216.5" stroke="rgb(255,50,50)" stroke-width="1.4"/>
<line x1="86.67" y1="236.5" x2="94.27" y2="236.5" stroke="rgb(255,50,50)" stroke-width="1.4"/>
<line x1="88.53" y1="216.5" x2="96.13" y2="216.5" stroke="rgb(255,50,50)" stroke-width="1.4"/>
<line x1="88.53" y1="236" x2="96.13" y2="236" stroke="rgb(255,50,50)" stroke-width="1.4"/>
<line x1="90.4" y1="216.8" x2="98" y2="216.8" stroke="rgb(255,50,50)" stroke-width="1.4"/>
<line x1="90.4" y1="236" x2="98" y2="236" stroke="rgb(255,50,50)" stroke-width="1.4"/>
<line x1="92.27" y1="216.5" x2="99.87" y2="216.5" stroke="rgb(255,50,50)" stroke-width="1.4"/>
<line x1="92.27" y1="233" x2="99.87" y2="233" stroke="rgb(255,50,50)" stroke-width="1.4"/>
<line x1="94.13" y1="217.5" x2="101.73" y2="217.5" stroke="rgb(255,50,50)" stroke-width="1.4"/>
<line x1="94.13" y1="231.5" x2="101.73" y2="231.5" stroke="rgb(255,50,50)" stroke-width="1.4"/>
<line x1="96" y1="219" x2="103.6" y2="219" stroke="rgb(255,50,50)" stroke-width="1.4"/>
<line x1="96" y1="231.5" x2="103.6" y2="231.5" stroke="rgb(255,50,50)" stroke-width="1.4"/>
<line x1="97.87" y1="220.5" x2="105.47" y2="220.5" stroke="rgb(255,50,50)" stroke-width="1.4"/>
<line x1="97.87" y1="231.5" x2="105.47" y2="231.5" stroke="rgb(255,50,50)" stroke-width="1.4"/>
<line x1="99.73" y1="221" x2="107.33" y2="221" stroke="rgb(255,50,50)" stroke-width="1.4"/>
<line x1="99.73" y1="231.5" x2="107.33" y2="231.5" stroke="rgb(255,50,50)" stroke-width="1.4"/>
<line x1="101.6" y1="220.5" x2="109.2" y2="220.5" stroke="rgb(255,50,50)" stroke-width="1.4"/>
<line x1="101.6" y1="231.5" x2="109.2" y2="231.5" stroke="rgb(255,50,50)" stroke-width="1.4"/>
<line x1="103.47" y1="219.5" x2="111.07" y2="219.5" stroke="rgb(255,50,50)" stroke-width="1.4"/>
<line x1="103.47" y1="231.5" x2="111.07" y2="231.5" stroke="rgb(255,50,50)" stroke-width="1.4"/>
<line x1="105.33" y1="218.5" x2="112.93" y2="218.5" stroke="rgb(255,50,50)" stroke-width="1.4"/>
<line x1="105.33" y1="231.5" x2="112.93" y2="231.5" stroke="rgb(255,50,50)" stroke-width="1.4"/>
<line x1="107.2" y1="217.5" x2="114.8" y2="217.5" stroke="rgb(255,50,50)" stroke-width="1.4"/>
<line x1="107.2" y1="231" x2="114.8" y2="231" stroke="rgb(255,50,50)" stroke-width="1.4"/>
<line x1="109.07" y1="216" x2="116.67" y2="216" stroke="rgb(255,50,50)" stroke-width="1.4"/>
<line x1="109.07" y1="230" x2="116.67" y2="230" stroke="rgb(255,50,50)" stroke-width="1.4"/>
<line x1="110.93" y1="215" x2="118.53" y2="215" stroke="rgb(255,50,50)" stroke-width="1.4"/>
<line x1="110.93" y1="229" x2="118.53" y2="229" stroke="rgb(255,50,50)" stroke-width="1.4"/>
<line x1="112.8" y1="214" x2="120.4" y2="214" stroke="rgb(255,50,50)" stroke-width="1.4"/>
<line x1="112.8" y1="228" x2="120.4" y2="228" stroke="rgb(255,50,50)" stroke-width="1.4"/>
</g>
<g clip-path="url(#cl)">
<polyline points="116.6,221 118.4,207.4 139,171.8 195,171.8 218.77,171.38 222.5,171.9 226.23,172.13 229.96,171.61 233.69,172.29 237.42,172.36 241.15,172.58 244.88,172.88 248.6,173.08 252.33,173.47 256.06,174.66 259.79,174.53 263.52,175.98 267.25,177.51 270.98,178.06 274.71,177.97 278.44,177.82 282.17,177.82 285.89,178.35 289.62,177.92 293.35,178.14 297.08,178.5 300.81,178.83 304.54,178.73 308.27,178.56 312,179.16 315.73,178.68 319.46,178.62 323.18,178.92 330,179.2 337,190.4 342.8,190.6 389.48,192.6 411.82,192.4 445.33,192.4" fill="none" stroke="rgb(255,50,50)" stroke-width="3.6" stroke-linejoin="round" />
</g>
<g clip-path="url(#cb)">
<line x1="118.4" y1="202.8" x2="118.4" y2="211.4" stroke="rgb(255,50,50)" stroke-width="1.5"/>
<line x1="113.8" y1="202.8" x2="123" y2="202.8" stroke="rgb(255,50,50)" stroke-width="1.5"/>
<line x1="113.8" y1="211.4" x2="123" y2="211.4" stroke="rgb(255,50,50)" stroke-width="1.5"/>
<line x1="139" y1="169.5" x2="139" y2="174.1" stroke="rgb(255,50,50)" stroke-width="1.5"/>
<line x1="134.4" y1="169.5" x2="143.6" y2="169.5" stroke="rgb(255,50,50)" stroke-width="1.5"/>
<line x1="134.4" y1="174.1" x2="143.6" y2="174.1" stroke="rgb(255,50,50)" stroke-width="1.5"/>
<line x1="195" y1="169.5" x2="195" y2="174.1" stroke="rgb(255,50,50)" stroke-width="1.5"/>
<line x1="190.4" y1="169.5" x2="199.6" y2="169.5" stroke="rgb(255,50,50)" stroke-width="1.5"/>
<line x1="190.4" y1="174.1" x2="199.6" y2="174.1" stroke="rgb(255,50,50)" stroke-width="1.5"/>
</g>
<g clip-path="url(#cb)">
<line x1="218.77" y1="167.88" x2="218.77" y2="174.88" stroke="rgb(255,50,50)" stroke-width="1.3"/>
<line x1="214.17" y1="167.88" x2="223.37" y2="167.88" stroke="rgb(255,50,50)" stroke-width="1.2"/>
<line x1="214.17" y1="174.88" x2="223.37" y2="174.88" stroke="rgb(255,50,50)" stroke-width="1.2"/>
<line x1="222.5" y1="168.4" x2="222.5" y2="175.4" stroke="rgb(255,50,50)" stroke-width="1.3"/>
<line x1="217.9" y1="168.4" x2="227.1" y2="168.4" stroke="rgb(255,50,50)" stroke-width="1.2"/>
<line x1="217.9" y1="175.4" x2="227.1" y2="175.4" stroke="rgb(255,50,50)" stroke-width="1.2"/>
<line x1="226.23" y1="168.63" x2="226.23" y2="175.63" stroke="rgb(255,50,50)" stroke-width="1.3"/>
<line x1="221.63" y1="168.63" x2="230.83" y2="168.63" stroke="rgb(255,50,50)" stroke-width="1.2"/>
<line x1="221.63" y1="175.63" x2="230.83" y2="175.63" stroke="rgb(255,50,50)" stroke-width="1.2"/>
<line x1="229.96" y1="168.11" x2="229.96" y2="175.11" stroke="rgb(255,50,50)" stroke-width="1.3"/>
<line x1="225.36" y1="168.11" x2="234.56" y2="168.11" stroke="rgb(255,50,50)" stroke-width="1.2"/>
<line x1="225.36" y1="175.11" x2="234.56" y2="175.11" stroke="rgb(255,50,50)" stroke-width="1.2"/>
<line x1="233.69" y1="168.79" x2="233.69" y2="175.79" stroke="rgb(255,50,50)" stroke-width="1.3"/>
<line x1="229.09" y1="168.79" x2="238.29" y2="168.79" stroke="rgb(255,50,50)" stroke-width="1.2"/>
<line x1="229.09" y1="175.79" x2="238.29" y2="175.79" stroke="rgb(255,50,50)" stroke-width="1.2"/>
<line x1="237.42" y1="168.86" x2="237.42" y2="175.86" stroke="rgb(255,50,50)" stroke-width="1.3"/>
<line x1="232.82" y1="168.86" x2="242.02" y2="168.86" stroke="rgb(255,50,50)" stroke-width="1.2"/>
<line x1="232.82" y1="175.86" x2="242.02" y2="175.86" stroke="rgb(255,50,50)" stroke-width="1.2"/>
<line x1="241.15" y1="169.08" x2="241.15" y2="176.08" stroke="rgb(255,50,50)" stroke-width="1.3"/>
<line x1="236.55" y1="169.08" x2="245.75" y2="169.08" stroke="rgb(255,50,50)" stroke-width="1.2"/>
<line x1="236.55" y1="176.08" x2="245.75" y2="176.08" stroke="rgb(255,50,50)" stroke-width="1.2"/>
<line x1="244.88" y1="169.38" x2="244.88" y2="176.38" stroke="rgb(255,50,50)" stroke-width="1.3"/>
<line x1="240.28" y1="169.38" x2="249.47" y2="169.38" stroke="rgb(255,50,50)" stroke-width="1.2"/>
<line x1="240.28" y1="176.38" x2="249.47" y2="176.38" stroke="rgb(255,50,50)" stroke-width="1.2"/>
<line x1="248.6" y1="169.58" x2="248.6" y2="176.58" stroke="rgb(255,50,50)" stroke-width="1.3"/>
<line x1="244" y1="169.58" x2="253.2" y2="169.58" stroke="rgb(255,50,50)" stroke-width="1.2"/>
<line x1="244" y1="176.58" x2="253.2" y2="176.58" stroke="rgb(255,50,50)" stroke-width="1.2"/>
<line x1="252.33" y1="169.97" x2="252.33" y2="176.97" stroke="rgb(255,50,50)" stroke-width="1.3"/>
<line x1="247.73" y1="169.97" x2="256.93" y2="169.97" stroke="rgb(255,50,50)" stroke-width="1.2"/>
<line x1="247.73" y1="176.97" x2="256.93" y2="176.97" stroke="rgb(255,50,50)" stroke-width="1.2"/>
<line x1="256.06" y1="171.16" x2="256.06" y2="178.16" stroke="rgb(255,50,50)" stroke-width="1.3"/>
<line x1="251.46" y1="171.16" x2="260.66" y2="171.16" stroke="rgb(255,50,50)" stroke-width="1.2"/>
<line x1="251.46" y1="178.16" x2="260.66" y2="178.16" stroke="rgb(255,50,50)" stroke-width="1.2"/>
<line x1="259.79" y1="171.03" x2="259.79" y2="178.03" stroke="rgb(255,50,50)" stroke-width="1.3"/>
<line x1="255.19" y1="171.03" x2="264.39" y2="171.03" stroke="rgb(255,50,50)" stroke-width="1.2"/>
<line x1="255.19" y1="178.03" x2="264.39" y2="178.03" stroke="rgb(255,50,50)" stroke-width="1.2"/>
<line x1="263.52" y1="172.48" x2="263.52" y2="179.48" stroke="rgb(255,50,50)" stroke-width="1.3"/>
<line x1="258.92" y1="172.48" x2="268.12" y2="172.48" stroke="rgb(255,50,50)" stroke-width="1.2"/>
<line x1="258.92" y1="179.48" x2="268.12" y2="179.48" stroke="rgb(255,50,50)" stroke-width="1.2"/>
<line x1="267.25" y1="172.91" x2="267.25" y2="182.11" stroke="rgb(255,50,50)" stroke-width="1.3"/>
<line x1="262.65" y1="172.91" x2="271.85" y2="172.91" stroke="rgb(255,50,50)" stroke-width="1.2"/>
<line x1="262.65" y1="182.11" x2="271.85" y2="182.11" stroke="rgb(255,50,50)" stroke-width="1.2"/>
<line x1="270.98" y1="173.46" x2="270.98" y2="182.66" stroke="rgb(255,50,50)" stroke-width="1.3"/>
<line x1="266.38" y1="173.46" x2="275.58" y2="173.46" stroke="rgb(255,50,50)" stroke-width="1.2"/>
<line x1="266.38" y1="182.66" x2="275.58" y2="182.66" stroke="rgb(255,50,50)" stroke-width="1.2"/>
<line x1="274.71" y1="173.37" x2="274.71" y2="182.57" stroke="rgb(255,50,50)" stroke-width="1.3"/>
<line x1="270.11" y1="173.37" x2="279.31" y2="173.37" stroke="rgb(255,50,50)" stroke-width="1.2"/>
<line x1="270.11" y1="182.57" x2="279.31" y2="182.57" stroke="rgb(255,50,50)" stroke-width="1.2"/>
<line x1="278.44" y1="173.22" x2="278.44" y2="182.42" stroke="rgb(255,50,50)" stroke-width="1.3"/>
<line x1="273.84" y1="173.22" x2="283.04" y2="173.22" stroke="rgb(255,50,50)" stroke-width="1.2"/>
<line x1="273.84" y1="182.42" x2="283.04" y2="182.42" stroke="rgb(255,50,50)" stroke-width="1.2"/>
<line x1="282.17" y1="173.22" x2="282.17" y2="182.42" stroke="rgb(255,50,50)" stroke-width="1.3"/>
<line x1="277.56" y1="173.22" x2="286.77" y2="173.22" stroke="rgb(255,50,50)" stroke-width="1.2"/>
<line x1="277.56" y1="182.42" x2="286.77" y2="182.42" stroke="rgb(255,50,50)" stroke-width="1.2"/>
<line x1="285.89" y1="173.75" x2="285.89" y2="182.95" stroke="rgb(255,50,50)" stroke-width="1.3"/>
<line x1="281.29" y1="173.75" x2="290.49" y2="173.75" stroke="rgb(255,50,50)" stroke-width="1.2"/>
<line x1="281.29" y1="182.95" x2="290.49" y2="182.95" stroke="rgb(255,50,50)" stroke-width="1.2"/>
<line x1="289.62" y1="173.32" x2="289.62" y2="182.52" stroke="rgb(255,50,50)" stroke-width="1.3"/>
<line x1="285.02" y1="173.32" x2="294.22" y2="173.32" stroke="rgb(255,50,50)" stroke-width="1.2"/>
<line x1="285.02" y1="182.52" x2="294.22" y2="182.52" stroke="rgb(255,50,50)" stroke-width="1.2"/>
<line x1="293.35" y1="173.54" x2="293.35" y2="182.74" stroke="rgb(255,50,50)" stroke-width="1.3"/>
<line x1="288.75" y1="173.54" x2="297.95" y2="173.54" stroke="rgb(255,50,50)" stroke-width="1.2"/>
<line x1="288.75" y1="182.74" x2="297.95" y2="182.74" stroke="rgb(255,50,50)" stroke-width="1.2"/>
<line x1="297.08" y1="173.9" x2="297.08" y2="183.1" stroke="rgb(255,50,50)" stroke-width="1.3"/>
<line x1="292.48" y1="173.9" x2="301.68" y2="173.9" stroke="rgb(255,50,50)" stroke-width="1.2"/>
<line x1="292.48" y1="183.1" x2="301.68" y2="183.1" stroke="rgb(255,50,50)" stroke-width="1.2"/>
<line x1="300.81" y1="174.23" x2="300.81" y2="183.43" stroke="rgb(255,50,50)" stroke-width="1.3"/>
<line x1="296.21" y1="174.23" x2="305.41" y2="174.23" stroke="rgb(255,50,50)" stroke-width="1.2"/>
<line x1="296.21" y1="183.43" x2="305.41" y2="183.43" stroke="rgb(255,50,50)" stroke-width="1.2"/>
<line x1="304.54" y1="174.13" x2="304.54" y2="183.33" stroke="rgb(255,50,50)" stroke-width="1.3"/>
<line x1="299.94" y1="174.13" x2="309.14" y2="174.13" stroke="rgb(255,50,50)" stroke-width="1.2"/>
<line x1="299.94" y1="183.33" x2="309.14" y2="183.33" stroke="rgb(255,50,50)" stroke-width="1.2"/>
<line x1="308.27" y1="173.96" x2="308.27" y2="183.16" stroke="rgb(255,50,50)" stroke-width="1.3"/>
<line x1="303.67" y1="173.96" x2="312.87" y2="173.96" stroke="rgb(255,50,50)" stroke-width="1.2"/>
<line x1="303.67" y1="183.16" x2="312.87" y2="183.16" stroke="rgb(255,50,50)" stroke-width="1.2"/>
<line x1="312" y1="174.56" x2="312" y2="183.76" stroke="rgb(255,50,50)" stroke-width="1.3"/>
<line x1="307.4" y1="174.56" x2="316.6" y2="174.56" stroke="rgb(255,50,50)" stroke-width="1.2"/>
<line x1="307.4" y1="183.76" x2="316.6" y2="183.76" stroke="rgb(255,50,50)" stroke-width="1.2"/>
<line x1="315.73" y1="174.08" x2="315.73" y2="183.28" stroke="rgb(255,50,50)" stroke-width="1.3"/>
<line x1="311.13" y1="174.08" x2="320.33" y2="174.08" stroke="rgb(255,50,50)" stroke-width="1.2"/>
<line x1="311.13" y1="183.28" x2="320.33" y2="183.28" stroke="rgb(255,50,50)" stroke-width="1.2"/>
<line x1="319.46" y1="174.02" x2="319.46" y2="183.22" stroke="rgb(255,50,50)" stroke-width="1.3"/>
<line x1="314.86" y1="174.02" x2="324.06" y2="174.02" stroke="rgb(255,50,50)" stroke-width="1.2"/>
<line x1="314.86" y1="183.22" x2="324.06" y2="183.22" stroke="rgb(255,50,50)" stroke-width="1.2"/>
<line x1="323.18" y1="174.32" x2="323.18" y2="183.52" stroke="rgb(255,50,50)" stroke-width="1.3"/>
<line x1="318.58" y1="174.32" x2="327.78" y2="174.32" stroke="rgb(255,50,50)" stroke-width="1.2"/>
<line x1="318.58" y1="183.52" x2="327.78" y2="183.52" stroke="rgb(255,50,50)" stroke-width="1.2"/>
</g>
<g clip-path="url(#cb)">
<line x1="389.48" y1="187.7" x2="389.48" y2="198" stroke="rgb(255,50,50)" stroke-width="1.5"/>
<line x1="384.78" y1="187.7" x2="394.18" y2="187.7" stroke="rgb(255,50,50)" stroke-width="1.4"/>
<line x1="384.78" y1="198" x2="394.18" y2="198" stroke="rgb(255,50,50)" stroke-width="1.4"/>
<line x1="411.82" y1="187.5" x2="411.82" y2="197.8" stroke="rgb(255,50,50)" stroke-width="1.5"/>
<line x1="407.12" y1="187.5" x2="416.52" y2="187.5" stroke="rgb(255,50,50)" stroke-width="1.4"/>
<line x1="407.12" y1="197.8" x2="416.52" y2="197.8" stroke="rgb(255,50,50)" stroke-width="1.4"/>
<line x1="445.33" y1="187.5" x2="445.33" y2="197.8" stroke="rgb(255,50,50)" stroke-width="1.5"/>
<line x1="440.63" y1="187.5" x2="450.03" y2="187.5" stroke="rgb(255,50,50)" stroke-width="1.4"/>
<line x1="440.63" y1="197.8" x2="450.03" y2="197.8" stroke="rgb(255,50,50)" stroke-width="1.4"/>
</g>
<g clip-path="url(#cb)">
<polygon points="82.05,238.5 83.95,238.5 83.92,238.5 85.82,238.5 85.78,238.5 87.68,238.5 87.65,239 89.55,239 89.52,238.5 91.42,238.5 91.38,239 93.28,239 93.25,239.5 95.15,239.5 95.12,239.5 97.02,239.5 96.98,241 98.88,241 98.85,241.5 100.75,241.5 100.72,241 102.62,241 102.58,241.5 104.48,241.5 104.45,241 106.35,241 106.32,241.5 108.22,241.5 108.18,241 110.08,241 110.05,241.5 111.95,241.5 111.92,241 113.82,241 113.78,241.5 115.68,241.5 115.65,242 117.55,242 117.52,242.5 119.42,242.5 119.42,255 117.52,255 117.55,254.5 115.65,254.5 115.68,254 113.78,254 113.82,254.5 111.92,254.5 111.95,254 110.05,254 110.08,254 108.18,254 108.22,254.5 106.32,254.5 106.35,254 104.45,254 104.48,254.5 102.58,254.5 102.62,254 100.72,254 100.75,254.5 98.85,254.5 98.88,254 96.98,254 97.02,254.5 95.12,254.5 95.15,254 93.25,254 93.28,254.5 91.38,254.5 91.42,254 89.52,254 89.55,254.5 87.65,254.5 87.68,254.5 85.78,254.5 85.82,254.5 83.92,254.5 83.95,254.5 82.05,254.5" fill="#000"/>
<line x1="78.4" y1="238.5" x2="87.6" y2="238.5" stroke="#000" stroke-width="1.4"/>
<line x1="78.4" y1="254.5" x2="87.6" y2="254.5" stroke="#000" stroke-width="1.4"/>
<line x1="80.27" y1="238.5" x2="89.47" y2="238.5" stroke="#000" stroke-width="1.4"/>
<line x1="80.27" y1="254.5" x2="89.47" y2="254.5" stroke="#000" stroke-width="1.4"/>
<line x1="82.13" y1="238.5" x2="91.33" y2="238.5" stroke="#000" stroke-width="1.4"/>
<line x1="82.13" y1="254.5" x2="91.33" y2="254.5" stroke="#000" stroke-width="1.4"/>
<line x1="84" y1="239" x2="93.2" y2="239" stroke="#000" stroke-width="1.4"/>
<line x1="84" y1="254.5" x2="93.2" y2="254.5" stroke="#000" stroke-width="1.4"/>
<line x1="85.87" y1="238.5" x2="95.07" y2="238.5" stroke="#000" stroke-width="1.4"/>
<line x1="85.87" y1="254" x2="95.07" y2="254" stroke="#000" stroke-width="1.4"/>
<line x1="87.73" y1="239" x2="96.93" y2="239" stroke="#000" stroke-width="1.4"/>
<line x1="87.73" y1="254.5" x2="96.93" y2="254.5" stroke="#000" stroke-width="1.4"/>
<line x1="89.6" y1="239.5" x2="98.8" y2="239.5" stroke="#000" stroke-width="1.4"/>
<line x1="89.6" y1="254" x2="98.8" y2="254" stroke="#000" stroke-width="1.4"/>
<line x1="91.47" y1="239.5" x2="100.67" y2="239.5" stroke="#000" stroke-width="1.4"/>
<line x1="91.47" y1="254.5" x2="100.67" y2="254.5" stroke="#000" stroke-width="1.4"/>
<line x1="93.33" y1="241" x2="102.53" y2="241" stroke="#000" stroke-width="1.4"/>
<line x1="93.33" y1="254" x2="102.53" y2="254" stroke="#000" stroke-width="1.4"/>
<line x1="95.2" y1="241.5" x2="104.4" y2="241.5" stroke="#000" stroke-width="1.4"/>
<line x1="95.2" y1="254.5" x2="104.4" y2="254.5" stroke="#000" stroke-width="1.4"/>
<line x1="97.07" y1="241" x2="106.27" y2="241" stroke="#000" stroke-width="1.4"/>
<line x1="97.07" y1="254" x2="106.27" y2="254" stroke="#000" stroke-width="1.4"/>
<line x1="98.93" y1="241.5" x2="108.13" y2="241.5" stroke="#000" stroke-width="1.4"/>
<line x1="98.93" y1="254.5" x2="108.13" y2="254.5" stroke="#000" stroke-width="1.4"/>
<line x1="100.8" y1="241" x2="110" y2="241" stroke="#000" stroke-width="1.4"/>
<line x1="100.8" y1="254" x2="110" y2="254" stroke="#000" stroke-width="1.4"/>
<line x1="102.67" y1="241.5" x2="111.87" y2="241.5" stroke="#000" stroke-width="1.4"/>
<line x1="102.67" y1="254.5" x2="111.87" y2="254.5" stroke="#000" stroke-width="1.4"/>
<line x1="104.53" y1="241" x2="113.73" y2="241" stroke="#000" stroke-width="1.4"/>
<line x1="104.53" y1="254" x2="113.73" y2="254" stroke="#000" stroke-width="1.4"/>
<line x1="106.4" y1="241.5" x2="115.6" y2="241.5" stroke="#000" stroke-width="1.4"/>
<line x1="106.4" y1="254" x2="115.6" y2="254" stroke="#000" stroke-width="1.4"/>
<line x1="108.27" y1="241" x2="117.47" y2="241" stroke="#000" stroke-width="1.4"/>
<line x1="108.27" y1="254.5" x2="117.47" y2="254.5" stroke="#000" stroke-width="1.4"/>
<line x1="110.13" y1="241.5" x2="119.33" y2="241.5" stroke="#000" stroke-width="1.4"/>
<line x1="110.13" y1="254" x2="119.33" y2="254" stroke="#000" stroke-width="1.4"/>
<line x1="112" y1="242" x2="121.2" y2="242" stroke="#000" stroke-width="1.4"/>
<line x1="112" y1="254.5" x2="121.2" y2="254.5" stroke="#000" stroke-width="1.4"/>
<line x1="113.87" y1="242.5" x2="123.07" y2="242.5" stroke="#000" stroke-width="1.4"/>
<line x1="113.87" y1="255" x2="123.07" y2="255" stroke="#000" stroke-width="1.4"/>
</g>
<g clip-path="url(#cl)">
<polyline points="118.47,249.7 139,249.8 195,249.8 218.77,249.53 222.5,249.21 226.23,249.69 229.96,249.43 233.69,250.18 237.42,249.83 241.15,249.17 244.88,249.02 248.6,249.84 252.33,249.03 256.06,249.58 259.79,247.68 263.52,245.89 267.25,246.68 270.98,246.68 274.71,246.75 278.44,246.22 282.17,246.88 285.89,246.3 289.62,246.84 293.35,246.55 297.08,246.5 300.81,245.9 304.54,246.99 308.27,246.67 312,246.68 315.73,246.33 319.46,245.9 323.18,245.84 342.8,242.7 445.33,242.7" fill="none" stroke="#000" stroke-width="3.4" stroke-linejoin="round" />
</g>
<g clip-path="url(#cb)">
<line x1="139" y1="246" x2="139" y2="253.6" stroke="#000" stroke-width="1.5"/>
<line x1="134.4" y1="246" x2="143.6" y2="246" stroke="#000" stroke-width="1.5"/>
<line x1="134.4" y1="253.6" x2="143.6" y2="253.6" stroke="#000" stroke-width="1.5"/>
<line x1="195" y1="245.6" x2="195" y2="254" stroke="#000" stroke-width="1.5"/>
<line x1="190.4" y1="245.6" x2="199.6" y2="245.6" stroke="#000" stroke-width="1.5"/>
<line x1="190.4" y1="254" x2="199.6" y2="254" stroke="#000" stroke-width="1.5"/>
</g>
<g clip-path="url(#cb)">
<line x1="218.77" y1="245.59" x2="218.77" y2="253.48" stroke="#000" stroke-width="1.3"/>
<line x1="214.17" y1="245.59" x2="223.37" y2="245.59" stroke="#000" stroke-width="1.2"/>
<line x1="214.17" y1="253.48" x2="223.37" y2="253.48" stroke="#000" stroke-width="1.2"/>
<line x1="222.5" y1="245.02" x2="222.5" y2="253.41" stroke="#000" stroke-width="1.3"/>
<line x1="217.9" y1="245.02" x2="227.1" y2="245.02" stroke="#000" stroke-width="1.2"/>
<line x1="217.9" y1="253.41" x2="227.1" y2="253.41" stroke="#000" stroke-width="1.2"/>
<line x1="226.23" y1="245.68" x2="226.23" y2="253.69" stroke="#000" stroke-width="1.3"/>
<line x1="221.63" y1="245.68" x2="230.83" y2="245.68" stroke="#000" stroke-width="1.2"/>
<line x1="221.63" y1="253.69" x2="230.83" y2="253.69" stroke="#000" stroke-width="1.2"/>
<line x1="229.96" y1="244.82" x2="229.96" y2="254.05" stroke="#000" stroke-width="1.3"/>
<line x1="225.36" y1="244.82" x2="234.56" y2="244.82" stroke="#000" stroke-width="1.2"/>
<line x1="225.36" y1="254.05" x2="234.56" y2="254.05" stroke="#000" stroke-width="1.2"/>
<line x1="233.69" y1="245.75" x2="233.69" y2="254.6" stroke="#000" stroke-width="1.3"/>
<line x1="229.09" y1="245.75" x2="238.29" y2="245.75" stroke="#000" stroke-width="1.2"/>
<line x1="229.09" y1="254.6" x2="238.29" y2="254.6" stroke="#000" stroke-width="1.2"/>
<line x1="237.42" y1="245.46" x2="237.42" y2="254.2" stroke="#000" stroke-width="1.3"/>
<line x1="232.82" y1="245.46" x2="242.02" y2="245.46" stroke="#000" stroke-width="1.2"/>
<line x1="232.82" y1="254.2" x2="242.02" y2="254.2" stroke="#000" stroke-width="1.2"/>
<line x1="241.15" y1="245.24" x2="241.15" y2="253.1" stroke="#000" stroke-width="1.3"/>
<line x1="236.55" y1="245.24" x2="245.75" y2="245.24" stroke="#000" stroke-width="1.2"/>
<line x1="236.55" y1="253.1" x2="245.75" y2="253.1" stroke="#000" stroke-width="1.2"/>
<line x1="244.88" y1="244.39" x2="244.88" y2="253.65" stroke="#000" stroke-width="1.3"/>
<line x1="240.28" y1="244.39" x2="249.47" y2="244.39" stroke="#000" stroke-width="1.2"/>
<line x1="240.28" y1="253.65" x2="249.47" y2="253.65" stroke="#000" stroke-width="1.2"/>
<line x1="248.6" y1="245.17" x2="248.6" y2="254.51" stroke="#000" stroke-width="1.3"/>
<line x1="244" y1="245.17" x2="253.2" y2="245.17" stroke="#000" stroke-width="1.2"/>
<line x1="244" y1="254.51" x2="253.2" y2="254.51" stroke="#000" stroke-width="1.2"/>
<line x1="252.33" y1="244.62" x2="252.33" y2="253.43" stroke="#000" stroke-width="1.3"/>
<line x1="247.73" y1="244.62" x2="256.93" y2="244.62" stroke="#000" stroke-width="1.2"/>
<line x1="247.73" y1="253.43" x2="256.93" y2="253.43" stroke="#000" stroke-width="1.2"/>
<line x1="256.06" y1="245.09" x2="256.06" y2="254.06" stroke="#000" stroke-width="1.3"/>
<line x1="251.46" y1="245.09" x2="260.66" y2="245.09" stroke="#000" stroke-width="1.2"/>
<line x1="251.46" y1="254.06" x2="260.66" y2="254.06" stroke="#000" stroke-width="1.2"/>
<line x1="259.79" y1="242.28" x2="259.79" y2="253.08" stroke="#000" stroke-width="1.3"/>
<line x1="255.19" y1="242.28" x2="264.39" y2="242.28" stroke="#000" stroke-width="1.2"/>
<line x1="255.19" y1="253.08" x2="264.39" y2="253.08" stroke="#000" stroke-width="1.2"/>
<line x1="263.52" y1="240.85" x2="263.52" y2="250.93" stroke="#000" stroke-width="1.3"/>
<line x1="258.92" y1="240.85" x2="268.12" y2="240.85" stroke="#000" stroke-width="1.2"/>
<line x1="258.92" y1="250.93" x2="268.12" y2="250.93" stroke="#000" stroke-width="1.2"/>
<line x1="267.25" y1="241.36" x2="267.25" y2="252" stroke="#000" stroke-width="1.3"/>
<line x1="262.65" y1="241.36" x2="271.85" y2="241.36" stroke="#000" stroke-width="1.2"/>
<line x1="262.65" y1="252" x2="271.85" y2="252" stroke="#000" stroke-width="1.2"/>
<line x1="270.98" y1="241.52" x2="270.98" y2="251.85" stroke="#000" stroke-width="1.3"/>
<line x1="266.38" y1="241.52" x2="275.58" y2="241.52" stroke="#000" stroke-width="1.2"/>
<line x1="266.38" y1="251.85" x2="275.58" y2="251.85" stroke="#000" stroke-width="1.2"/>
<line x1="274.71" y1="241.42" x2="274.71" y2="252.08" stroke="#000" stroke-width="1.3"/>
<line x1="270.11" y1="241.42" x2="279.31" y2="241.42" stroke="#000" stroke-width="1.2"/>
<line x1="270.11" y1="252.08" x2="279.31" y2="252.08" stroke="#000" stroke-width="1.2"/>
<line x1="278.44" y1="241.07" x2="278.44" y2="251.37" stroke="#000" stroke-width="1.3"/>
<line x1="273.84" y1="241.07" x2="283.04" y2="241.07" stroke="#000" stroke-width="1.2"/>
<line x1="273.84" y1="251.37" x2="283.04" y2="251.37" stroke="#000" stroke-width="1.2"/>
<line x1="282.17" y1="241.58" x2="282.17" y2="252.18" stroke="#000" stroke-width="1.3"/>
<line x1="277.56" y1="241.58" x2="286.77" y2="241.58" stroke="#000" stroke-width="1.2"/>
<line x1="277.56" y1="252.18" x2="286.77" y2="252.18" stroke="#000" stroke-width="1.2"/>
<line x1="285.89" y1="241.07" x2="285.89" y2="251.53" stroke="#000" stroke-width="1.3"/>
<line x1="281.29" y1="241.07" x2="290.49" y2="241.07" stroke="#000" stroke-width="1.2"/>
<line x1="281.29" y1="251.53" x2="290.49" y2="251.53" stroke="#000" stroke-width="1.2"/>
<line x1="289.62" y1="241.78" x2="289.62" y2="251.89" stroke="#000" stroke-width="1.3"/>
<line x1="285.02" y1="241.78" x2="294.22" y2="241.78" stroke="#000" stroke-width="1.2"/>
<line x1="285.02" y1="251.89" x2="294.22" y2="251.89" stroke="#000" stroke-width="1.2"/>
<line x1="293.35" y1="241.64" x2="293.35" y2="251.46" stroke="#000" stroke-width="1.3"/>
<line x1="288.75" y1="241.64" x2="297.95" y2="241.64" stroke="#000" stroke-width="1.2"/>
<line x1="288.75" y1="251.46" x2="297.95" y2="251.46" stroke="#000" stroke-width="1.2"/>
<line x1="297.08" y1="241.41" x2="297.08" y2="251.59" stroke="#000" stroke-width="1.3"/>
<line x1="292.48" y1="241.41" x2="301.68" y2="241.41" stroke="#000" stroke-width="1.2"/>
<line x1="292.48" y1="251.59" x2="301.68" y2="251.59" stroke="#000" stroke-width="1.2"/>
<line x1="300.81" y1="240.78" x2="300.81" y2="251.01" stroke="#000" stroke-width="1.3"/>
<line x1="296.21" y1="240.78" x2="305.41" y2="240.78" stroke="#000" stroke-width="1.2"/>
<line x1="296.21" y1="251.01" x2="305.41" y2="251.01" stroke="#000" stroke-width="1.2"/>
<line x1="304.54" y1="241.69" x2="304.54" y2="252.3" stroke="#000" stroke-width="1.3"/>
<line x1="299.94" y1="241.69" x2="309.14" y2="241.69" stroke="#000" stroke-width="1.2"/>
<line x1="299.94" y1="252.3" x2="309.14" y2="252.3" stroke="#000" stroke-width="1.2"/>
<line x1="308.27" y1="241.76" x2="308.27" y2="251.58" stroke="#000" stroke-width="1.3"/>
<line x1="303.67" y1="241.76" x2="312.87" y2="241.76" stroke="#000" stroke-width="1.2"/>
<line x1="303.67" y1="251.58" x2="312.87" y2="251.58" stroke="#000" stroke-width="1.2"/>
<line x1="312" y1="241.62" x2="312" y2="251.75" stroke="#000" stroke-width="1.3"/>
<line x1="307.4" y1="241.62" x2="316.6" y2="241.62" stroke="#000" stroke-width="1.2"/>
<line x1="307.4" y1="251.75" x2="316.6" y2="251.75" stroke="#000" stroke-width="1.2"/>
<line x1="315.73" y1="241.06" x2="315.73" y2="251.6" stroke="#000" stroke-width="1.3"/>
<line x1="311.13" y1="241.06" x2="320.33" y2="241.06" stroke="#000" stroke-width="1.2"/>
<line x1="311.13" y1="251.6" x2="320.33" y2="251.6" stroke="#000" stroke-width="1.2"/>
<line x1="319.46" y1="240.7" x2="319.46" y2="251.1" stroke="#000" stroke-width="1.3"/>
<line x1="314.86" y1="240.7" x2="324.06" y2="240.7" stroke="#000" stroke-width="1.2"/>
<line x1="314.86" y1="251.1" x2="324.06" y2="251.1" stroke="#000" stroke-width="1.2"/>
<line x1="323.18" y1="240.75" x2="323.18" y2="250.92" stroke="#000" stroke-width="1.3"/>
<line x1="318.58" y1="240.75" x2="327.78" y2="240.75" stroke="#000" stroke-width="1.2"/>
<line x1="318.58" y1="250.92" x2="327.78" y2="250.92" stroke="#000" stroke-width="1.2"/>
</g>
<g clip-path="url(#cb)">
<line x1="389.48" y1="237.4" x2="389.48" y2="248" stroke="#000" stroke-width="1.5"/>
<line x1="385.08" y1="237.4" x2="393.88" y2="237.4" stroke="#000" stroke-width="1.5"/>
<line x1="385.08" y1="248" x2="393.88" y2="248" stroke="#000" stroke-width="1.5"/>
<line x1="411.82" y1="237.4" x2="411.82" y2="248" stroke="#000" stroke-width="1.5"/>
<line x1="407.42" y1="237.4" x2="416.22" y2="237.4" stroke="#000" stroke-width="1.5"/>
<line x1="407.42" y1="248" x2="416.22" y2="248" stroke="#000" stroke-width="1.5"/>
<line x1="445.33" y1="237.4" x2="445.33" y2="248" stroke="#000" stroke-width="1.5"/>
<line x1="440.93" y1="237.4" x2="449.73" y2="237.4" stroke="#000" stroke-width="1.5"/>
<line x1="440.93" y1="248" x2="449.73" y2="248" stroke="#000" stroke-width="1.5"/>
</g>
<line x1="222" y1="242.4" x2="222" y2="253.6" stroke="#000" stroke-width="1.5"/>
<line x1="217" y1="242.4" x2="227" y2="242.4" stroke="#000" stroke-width="1.5"/>
<line x1="217" y1="253.6" x2="227" y2="253.6" stroke="#000" stroke-width="1.5"/>
<line x1="263.5" y1="238.4" x2="263.5" y2="253.6" stroke="#000" stroke-width="1.5"/>
<line x1="258.5" y1="238.4" x2="268.5" y2="238.4" stroke="#000" stroke-width="1.5"/>
<line x1="258.5" y1="253.6" x2="268.5" y2="253.6" stroke="#000" stroke-width="1.5"/>
<polygon points="281.3,246 290.3,246 285.8,257.6" fill="#000"/>
<polygon points="303.9,246 312.9,246 308.4,257.6" fill="#000"/>
</svg>
</body></html>
